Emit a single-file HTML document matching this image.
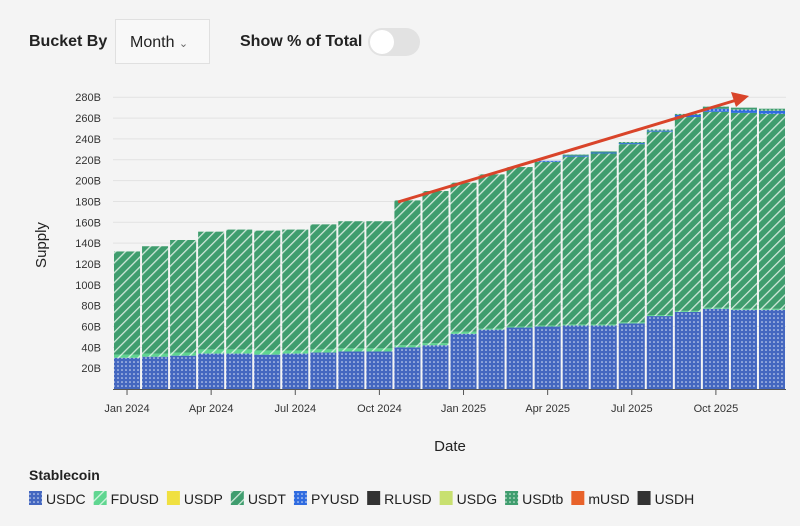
<!DOCTYPE html>
<html><head><meta charset="utf-8"><style>
body{margin:0;width:800px;height:526px;background:#f4f4f4;font-family:"Liberation Sans",sans-serif;overflow:hidden;position:relative}
.ctl{position:absolute;font-size:16px;color:#222;font-weight:bold}
</style></head><body>
<div class="ctl" style="left:29px;top:33px">Bucket By</div>
<div style="position:absolute;left:115px;top:19px;width:95px;height:45px;background:#f8f8f8;border:1px solid #e0e0e0;box-sizing:border-box;font-size:16px;color:#222;line-height:45px;padding-left:14px">Month <span style="font-size:11px;color:#666">&#8964;</span></div>
<div class="ctl" style="left:240px;top:33px">Show % of Total</div>
<div style="position:absolute;left:368px;top:28px;width:52px;height:28px;border-radius:14px;background:#e2e2e2"><div style="position:absolute;left:2px;top:2px;width:24px;height:24px;border-radius:12px;background:#fff"></div></div>
<svg id="chart" width="800" height="526" style="position:absolute;left:0;top:0">
<defs>
<pattern id="dots" width="4" height="4" patternUnits="userSpaceOnUse"><rect width="4" height="4" fill="#4467c0"/><circle cx="2" cy="2" r="0.8" fill="#dfe6f6"/></pattern>
<pattern id="dotsB" width="4" height="4" patternUnits="userSpaceOnUse"><rect width="4" height="4" fill="#2f6be0"/><circle cx="2" cy="2" r="0.8" fill="#dfe6f6"/></pattern>
<pattern id="dotsG" width="4" height="4" patternUnits="userSpaceOnUse"><rect width="4" height="4" fill="#3f9d6e"/><circle cx="2" cy="2" r="0.8" fill="#e0f0e6"/></pattern>
<pattern id="hatch" width="7" height="7" patternUnits="userSpaceOnUse" patternTransform="rotate(45)"><rect width="7" height="7" fill="#3f9d6e"/><rect width="1.3" height="7" fill="#cfe8da"/></pattern>
<pattern id="hatchF" width="7" height="7" patternUnits="userSpaceOnUse" patternTransform="rotate(45)"><rect width="7" height="7" fill="#5fd690"/><rect width="1.3" height="7" fill="#d5f5e0"/></pattern>
</defs>
<g id="grid"></g><g id="bars"></g><g id="axes"></g>
<text transform="translate(46,245) rotate(-90)" text-anchor="middle" font-size="15" fill="#222">Supply</text>
<text x="450" y="451" text-anchor="middle" font-size="15" fill="#222">Date</text>
<line x1="398" y1="202" x2="740" y2="99" stroke="#d9442a" stroke-width="3"/>
<path d="M731,92 L749,96 L736,107 Z" fill="#d9442a"/>
<text x="29" y="480" font-size="14" font-weight="bold" fill="#222">Stablecoin</text>
<g id="legend"></g>
</svg>
<script>
const months=["Jan 2024","Feb 2024","Mar 2024","Apr 2024","May 2024","Jun 2024","Jul 2024","Aug 2024","Sep 2024","Oct 2024","Nov 2024","Dec 2024","Jan 2025","Feb 2025","Mar 2025","Apr 2025","May 2025","Jun 2025","Jul 2025","Aug 2025","Sep 2025","Oct 2025","Nov 2025","Dec 2025"];
const usdc=[30,31,32,34,34,33,34,35,36,36,40,42,53,57,59,60,61,61,63,70,74,77,76,76];
const fdusd=[3,3,3,4,4,4,3,3,3,3,2,2,2,1,1,1,1,1,1,1,1,1,1,1];
const usdt=[99,103,108,113,115,115,116,120,122,122,139,146,143,148,153,157,161,164,171,176,186,188,188,187];
const pyusd=[0,0,0,0,0,0,0,0,0,0,0,0,0,0,0,1,1,1,1,1,2,3,3,3];
const usdtb=[0,0,0,0,0,0,0,0,0,0,0,0,0,0,0,0,1,1,1,1,1,2,2,2];
const yTicks=[20,40,60,80,100,120,140,160,180,200,220,240,260,280];
const xTickIdx=[0,3,6,9,12,15,18,21];
const xTickLabels=["Jan 2024","Apr 2024","Jul 2024","Oct 2024","Jan 2025","Apr 2025","Jul 2025","Oct 2025"];
const legendNames=["USDC","FDUSD","USDP","USDT","PYUSD","RLUSD","USDG","USDtb","mUSD","USDH"];
const legendFills=["url(#dots)","url(#hatchF)","#f0e040","url(#hatch)","url(#dotsB)","#333","#c8e070","url(#dotsG)","#e8622a","#333"];
const NS="http://www.w3.org/2000/svg";
const X0=113,X1=786,Y0=389,K=1.042;
const y=v=>Y0-v*K;
const bw=(X1-X0)/months.length;
const x=i=>X0+i*bw;
function mk(t,a,p){const e=document.createElementNS(NS,t);for(const k in a)e.setAttribute(k,a[k]);p.appendChild(e);return e;}
const grid=document.getElementById('grid'),bars=document.getElementById('bars'),axes=document.getElementById('axes'),leg=document.getElementById('legend');
yTicks.forEach(v=>{
 const l=mk('line',{x1:X0,x2:X1,y1:y(v),y2:y(v),stroke:'#e2e2e2'},grid);
 
 
 const t=mk('text',{x:101,y:y(v)+4,'text-anchor':'end','font-size':11,fill:'#333'},axes);
 t.textContent=v+'B';
 
 
});
const series=[[usdc,'url(#dots)','usdc'],[fdusd,'url(#hatchF)','fdusd'],[usdt,'url(#hatch)','usdt'],[pyusd,'url(#dotsB)','pyusd'],[usdtb,'url(#dotsG)','usdtb']];
months.forEach((m,i)=>{
 let acc=0;
 series.forEach(([arr,fill,nm])=>{
  const v=arr[i];if(v<=0)return;
  const r=mk('rect',{x:x(i)+1,y:y(acc+v),width:bw-2,height:v*K,fill:fill},bars);
  
  
  acc+=v;
 });
});
mk('line',{x1:X0,x2:X1,y1:Y0+0.5,y2:Y0+0.5,stroke:'#555'},axes);
xTickIdx.forEach((idx,j)=>{
 const cx=x(idx)+bw/2;
 mk('line',{x1:cx,x2:cx,y1:Y0,y2:Y0+6,stroke:'#555'},axes);
 const t=mk('text',{x:cx,y:Y0+23,'text-anchor':'middle','font-size':11,fill:'#333'},axes);
 t.textContent=xTickLabels[j];
 
 
});
let lx=29;
legendNames.forEach((n,i)=>{
 const g=mk('g',{},leg);
 
 
 mk('rect',{x:lx,y:491,width:13,height:14,fill:legendFills[i]},g);
 const t=mk('text',{x:lx+17,y:504,'font-size':14,fill:'#222'},g);
 t.textContent=n;
 lx+=17+t.getComputedTextLength()+8;
});
</script>
</body></html>
